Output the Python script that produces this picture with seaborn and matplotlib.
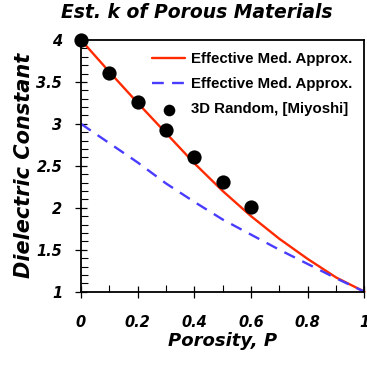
import numpy as np
import pandas as pd
import matplotlib
matplotlib.use("Agg")
import matplotlib.pyplot as plt
from matplotlib.ticker import MultipleLocator
import seaborn as sns

# values
porosity = [0.0, 0.1, 0.2, 0.3, 0.4, 0.5, 0.6, 0.7, 0.8, 0.9, 1.0]
ema_k4 = [4.0, 3.62, 3.25, 2.89, 2.53, 2.20, 1.90, 1.63, 1.39, 1.17, 1.0]
ema_k3 = [3.0, 2.77, 2.54, 2.29, 2.07, 1.86, 1.68, 1.50, 1.33, 1.16, 1.0]
miyoshi_p = [0.0, 0.1, 0.2, 0.3, 0.4, 0.5, 0.6]
miyoshi_k = [4.0, 3.61, 3.26, 2.93, 2.60, 2.31, 2.01]

x_ticks = [0, 0.2, 0.4, 0.6, 0.8, 1]
x_labels = ["0", "0.2", "0.4", "0.6", "0.8", "1"]
y_ticks = [1, 1.5, 2, 2.5, 3, 3.5, 4]
y_labels = ["1", "1.5", "2", "2.5", "3", "3.5", "4"]

sns.set_theme(style="white")
plt.rcParams["font.family"] = ["DejaVu Sans"]
plt.rcParams["text.color"] = "black"
plt.rcParams["axes.labelcolor"] = "black"
plt.rcParams["xtick.color"] = "black"
plt.rcParams["ytick.color"] = "black"

lines = pd.DataFrame({"P": porosity, "k4": ema_k4, "k3": ema_k3})
points = pd.DataFrame({"P": miyoshi_p, "k": miyoshi_k})

fig = plt.figure(figsize=(3.67, 3.70), dpi=100)
ax = fig.add_axes([0.2207, 0.2116, 0.993 - 0.2207, 0.892 - 0.2116])

sns.lineplot(data=lines, x="P", y="k4", ax=ax, color="#ff2a00", lw=1.7,
             label="Effective Med. Approx.", clip_on=False)
sns.lineplot(data=lines, x="P", y="k3", ax=ax, color="#4a3cff", lw=1.7,
             label="Effective Med. Approx.", clip_on=False)
ax.lines[1].set_dashes((5, 3.5))
sns.scatterplot(data=points, x="P", y="k", ax=ax, color="black", s=105,
                edgecolor="black", linewidth=0, zorder=5, clip_on=False,
                label="3D Random, [Miyoshi]")

ax.set_xlim(0, 1)
ax.set_ylim(1, 4)
ax.set_xticks(x_ticks)
ax.set_xticklabels(x_labels)
ax.set_yticks(y_ticks)
ax.set_yticklabels(y_labels)
ax.xaxis.set_minor_locator(MultipleLocator(0.1))
ax.yaxis.set_minor_locator(MultipleLocator(0.1))

for s in ax.spines.values():
    s.set_color("black")
    s.set_linewidth(1.3)

ax.tick_params(which="major", direction="inout", length=9, width=0.9,
               color="black", labelsize=10.5, labelcolor="black")
ax.tick_params(axis="x", which="major", pad=12)
ax.tick_params(axis="y", which="major", pad=9)
ax.tick_params(which="minor", direction="in", length=5, width=0.8, color="black")
ax.tick_params(axis="x", which="both", top=False, bottom=True)
ax.tick_params(axis="y", which="both", left=True, right=False)
for lab in ax.get_xticklabels() + ax.get_yticklabels():
    lab.set_fontweight("bold")
    lab.set_fontstyle("italic")

# title is centred on the figure, not the axes
fig.text(0.535, 0.967, "Est. k of Porous Materials", fontsize=13.5,
         fontweight="bold", fontstyle="italic", ha="center", va="center")
ax.set_xlabel("Porosity, P", fontsize=13, fontweight="bold", fontstyle="italic",
              labelpad=2)
ax.set_ylabel("Dielectric Constant", fontsize=15, fontweight="bold",
              fontstyle="italic", labelpad=2)

leg = ax.legend(loc="upper right", frameon=False, handlelength=2.2,
                handletextpad=0.4, labelspacing=0.75, borderaxespad=0.3,
                borderpad=0.5,
                prop={"family": "Liberation Sans", "weight": "bold", "size": 10.8})
for h in leg.legend_handles:
    if hasattr(h, "set_sizes"):
        h.set_sizes([70])

fig.savefig("out.png", dpi=100)
